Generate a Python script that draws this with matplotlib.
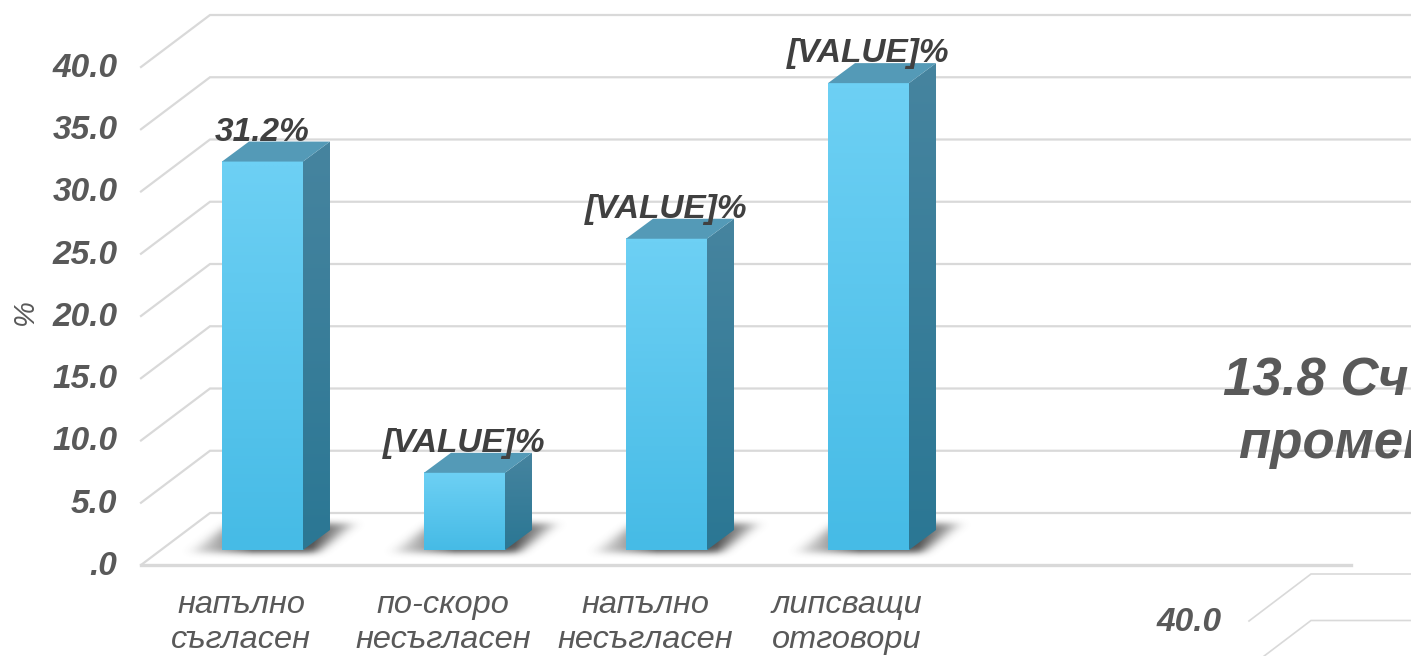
import numpy as np
import matplotlib
matplotlib.use('Agg')
import matplotlib.pyplot as plt
from matplotlib.colors import LinearSegmentedColormap
from matplotlib.patches import Polygon
from matplotlib.transforms import ScaledTranslation

plt.rcParams['font.family'] = ['Liberation Sans', 'DejaVu Sans']

# Data
categories = ['напълно\nсъгласен', 'по-скоро\nнесъгласен', 'напълно\nнесъгласен', 'липсващи\nотговори']
values = [31.2, 6.2, 25.0, 37.5]
bar_labels = ['31.2%', '[VALUE]%', '[VALUE]%', '[VALUE]%']
y_ticks = [0, 5, 10, 15, 20, 25, 30, 35, 40]
y_tick_labels = ['.0', '5.0', '10.0', '15.0', '20.0', '25.0', '30.0', '35.0', '40.0']

W, H = 1411, 656
GRID = '#d9d9d9'
TXT = '#595959'

# pixel scale of main axes
px_x = 202.0
px_y = 12.45

fig = plt.figure(figsize=(W / 100, H / 100), dpi=100)
# axes runs up to 45 so the top of the tallest bar is not clipped
ax = fig.add_axes([141 / W, (H - 565) / H, 1210 / W, 45 * px_y / H])
ax.set_xlim(-0.495, 5.495)
ax.set_ylim(0, 45)
ax.patch.set_alpha(0)
for s in ax.spines.values():
    s.set_visible(False)


def back_grid(a, ticks, off_x, off_y, xmax, lw):
    # the walls of the fake 3d box
    for t in ticks:
        xl = a.get_xlim()[0]
        a.plot([xl, xl + off_x, xmax], [t, t + off_y, t + off_y], color=GRID, lw=lw,
               clip_on=False, zorder=1, solid_joinstyle='miter')


back_grid(ax, y_ticks, 69 / px_x, 52 / px_y, 6.2, 1.6)
ax.plot([-0.495, 5.495], [0, 0], color=GRID, lw=2.4, clip_on=False, zorder=1.5)

ax.set_yticks(y_ticks)
ax.set_yticklabels(y_tick_labels, fontsize=24, fontweight='bold', fontstyle='italic', color=TXT)
ax.tick_params(axis='y', length=0, pad=17)
ax.set_xticks(range(len(categories)))
ax.set_xticklabels(categories, fontsize=23.4, fontstyle='italic', color=TXT, linespacing=1.23)
ax.tick_params(axis='x', length=0, pad=18)
up = ScaledTranslation(0, 2 / 100, fig.dpi_scale_trans)
for lbl in ax.get_yticklabels():
    lbl.set_transform(lbl.get_transform() + up)
fig.text(25 / W, 1 - 312 / H, '%', rotation=90, fontsize=21, fontstyle='italic', color=TXT,
         ha='center', va='center')

front_cmap = LinearSegmentedColormap.from_list('front', ['#46bbe6', '#6dd0f4'])
side_cmap = LinearSegmentedColormap.from_list('side', ['#2b7794', '#46849f'])
grad = np.linspace(1, 0, 64).reshape(-1, 1)

bar_w = 81 / px_x
bar_off = 21.5 / px_x
dx = 27 / px_x
dy = 20 / px_y
base = 15 / px_y


def shadow(a, x0):
    # soft shadow on the floor, built on a small pixel grid then blurred
    xs = np.arange(-60, 180)
    ys = np.arange(-42, 18)
    X, Y = np.meshgrid(xs, ys)
    left = -26 + (-Y - 3) * 1.45
    right = 100 + (-Y - 3) * 1.35
    m = ((X > left) & (X < right) & (Y < 3) & (Y > -27)).astype(float)
    k = np.ones(13) / 13
    for _ in range(3):
        m = np.apply_along_axis(lambda r: np.convolve(r, k, mode='same'), 1, m)
    k = np.ones(7) / 7
    for _ in range(2):
        m = np.apply_along_axis(lambda r: np.convolve(r, k, mode='same'), 0, m)
    fade = np.clip((X + 60) / 90, 0, 1) * np.clip((180 - X) / 90, 0, 1)
    rgba = np.zeros(m.shape + (4,))
    rgba[..., :3] = 0.3
    rgba[..., 3] = m * fade ** 1.5 * 0.95
    a.imshow(rgba, extent=[x0 - 60 / px_x, x0 + 180 / px_x, base - 18 / px_y, base + 42 / px_y],
             origin='upper', aspect='auto', zorder=2, interpolation='bilinear', clip_on=False)


for i, v in enumerate(values):
    x0 = i + bar_off - bar_w / 2
    x1 = x0 + bar_w
    top = base + v
    shadow(ax, x0)
    # front
    ax.imshow(grad, extent=[x0, x1, base, top], cmap=front_cmap, vmin=0, vmax=1,
              aspect='auto', zorder=3, interpolation='bilinear')
    # side
    side = Polygon([(x1, base), (x1 + dx, base + dy), (x1 + dx, top + dy), (x1, top)],
                   closed=True, fc='none', ec='none', transform=ax.transData)
    ax.add_patch(side)
    im = ax.imshow(grad, extent=[x1, x1 + dx, base, top + dy], cmap=side_cmap, vmin=0, vmax=1,
                   aspect='auto', zorder=3, interpolation='bilinear')
    im.set_clip_path(side)
    # top
    ax.add_patch(Polygon([(x0, top), (x1, top), (x1 + dx, top + dy), (x0 + dx, top + dy)],
                         closed=True, fc='#549ab7', ec='none', zorder=3))
    ax.text(i + bar_off, top + 2.35, bar_labels[i], ha='center', va='center', fontsize=24,
            fontweight='bold', fontstyle='italic', color='#404040', zorder=4, clip_on=False)

ax.set_xlim(-0.495, 5.495)
ax.set_ylim(0, 45)

# title of the chart, cut by the right edge
fig.text(1223 / W, 1 - 382 / H, '13.8 Сч', fontsize=38, fontweight='bold', fontstyle='italic',
         color=TXT, ha='left', va='center')
fig.text(1238 / W, 1 - 444 / H, 'промен', fontsize=38, fontweight='bold', fontstyle='italic',
         color=TXT, ha='left', va='center')

# next chart starts at the bottom right corner, only its top is in the picture
ax2 = fig.add_axes([1249 / W, (H - 993) / H, 400 / W, 372 / H])
ax2.set_xlim(0, 400)
ax2.set_ylim(0, 40)
ax2.patch.set_alpha(0)
for s in ax2.spines.values():
    s.set_visible(False)
back_grid(ax2, [35, 40], 62, 47 / 9.3, 400, 1.2)
ax2.set_xticks([])
ax2.set_yticks([40])
ax2.set_yticklabels(y_tick_labels[-1:], fontsize=24, fontweight='bold', fontstyle='italic', color=TXT)
ax2.tick_params(axis='y', length=0, pad=20)
for lbl in ax2.get_yticklabels():
    lbl.set_transform(lbl.get_transform() + up)

fig.savefig('out.png', dpi=100)
